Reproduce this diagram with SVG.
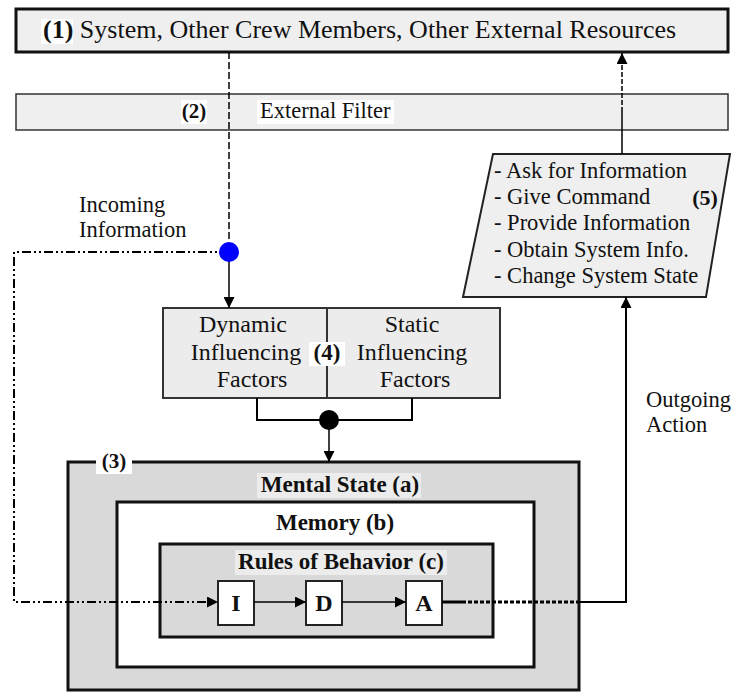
<svg xmlns="http://www.w3.org/2000/svg" width="733" height="692" viewBox="0 0 733 692">
<defs>
<marker id="arr" viewBox="0 0 10 10" refX="10" refY="5" markerWidth="11" markerHeight="11" markerUnits="userSpaceOnUse" orient="auto">
<path d="M0,0 L10,5 L0,10 z" fill="#000"/>
</marker>
</defs>
<style>
text{font-family:"Liberation Serif","Times New Roman",serif;fill:#111}
.b{font-weight:bold}
.c{text-anchor:middle}
.ln{fill:none;stroke:#000}
.bg{fill:#fff;stroke:none}
</style>
<rect width="733" height="692" fill="#fff"/>

<g id="n1">
<rect x="16" y="9" width="712" height="43" fill="#efefef" stroke="#111" stroke-width="3"/>
<rect class="bg" x="41" y="19" width="32" height="25"/>
<text x="43" y="38" font-size="26"><tspan class="b">(1)</tspan> System, Other Crew Members, Other External Resources</text>
</g>

<g id="n2">
<rect x="16" y="94" width="712" height="36" fill="#efefef" stroke="#333" stroke-width="1.5"/>
<rect class="bg" x="181" y="100" width="26" height="24"/>
<rect class="bg" x="257" y="100" width="137" height="24"/>
<text x="194" y="118" font-size="21" class="b c">(2)</text>
<text x="260" y="118" font-size="22.5">External Filter</text>
</g>

<g id="n5">
<polygon points="463,297 493,154 730,154 706,297" fill="#efefef" stroke="#222" stroke-width="2"/>
<text font-size="22.5">
<tspan x="494" y="178">- Ask for Information</tspan>
<tspan x="494" y="204">- Give Command</tspan>
<tspan x="494" y="230">- Provide Information</tspan>
<tspan x="494" y="257">- Obtain System Info.</tspan>
<tspan x="494" y="283">- Change System State</tspan>
</text>
<text x="705" y="205" font-size="22" class="b c">(5)</text>
</g>

<g id="n4">
<rect x="163" y="308" width="337" height="90" fill="#ececec" stroke="#333" stroke-width="2"/>
<line x1="327" y1="308" x2="327" y2="398" stroke="#333" stroke-width="2"/>
<text font-size="24" class="c">
<tspan x="246" y="332">Dynamic</tspan>
<tspan x="249" y="360">Influencing</tspan>
<tspan x="252" y="387">Factors</tspan>
</text>
<rect class="bg" x="309" y="342" width="36" height="24"/>
<text x="327" y="360" font-size="23" class="b c">(4)</text>
<text font-size="24" class="c">
<tspan x="415" y="332">Static</tspan>
<tspan x="415" y="360">Influencing</tspan>
<tspan x="415" y="387">Factors</tspan>
</text>
</g>

<g id="n3">
<rect x="68" y="462" width="511" height="228" fill="#d9d9d9" stroke="#111" stroke-width="3"/>
<rect class="bg" x="96" y="450" width="36" height="24"/>
<text x="114" y="468" font-size="21" class="b c">(3)</text>
<rect x="257" y="473" width="164" height="25" fill="#ececec"/>
<text x="340" y="492" font-size="23" class="b c">Mental State (a)</text>
</g>

<g id="n3b">
<rect x="117" y="502" width="417" height="165" fill="#fff" stroke="#111" stroke-width="3"/>
<text x="335" y="530" font-size="23" class="b c">Memory (b)</text>
</g>

<g id="n3c">
<rect x="160" y="544" width="333" height="93" fill="#d9d9d9" stroke="#111" stroke-width="3"/>
<rect x="235" y="550" width="212" height="25" fill="#ececec"/>
<text x="341" y="569" font-size="23" class="b c">Rules of Behavior (c)</text>
</g>

<g id="nI">
<rect x="218" y="581" width="36" height="44" fill="#fff" stroke="#222" stroke-width="2"/>
<text x="236" y="611" font-size="24" class="b c">I</text>
</g>
<g id="nD">
<rect x="306" y="581" width="36" height="44" fill="#fff" stroke="#222" stroke-width="2"/>
<text x="324" y="611" font-size="24" class="b c">D</text>
</g>
<g id="nA">
<rect x="406" y="581" width="36" height="44" fill="#fff" stroke="#222" stroke-width="2"/>
<text x="424" y="611" font-size="24" class="b c">A</text>
</g>

<g id="connectors">
<line class="ln" x1="229" y1="52" x2="229" y2="242" stroke-width="1.5" stroke-dasharray="7,3"/>
<line class="ln" x1="229" y1="252" x2="229" y2="308" stroke-width="1.5" marker-end="url(#arr)"/>
<path class="ln" d="M229,252 H14 V602 H218" stroke-width="2" stroke-dasharray="9,3,2,3,2,3" marker-end="url(#arr)"/>
<line class="ln" x1="254" y1="602" x2="306" y2="602" stroke="#555" stroke-width="1.5" marker-end="url(#arr)"/>
<line class="ln" x1="342" y1="602" x2="406" y2="602" stroke-width="1.5" marker-end="url(#arr)"/>
<line class="ln" x1="442" y1="602" x2="462" y2="602" stroke-width="3"/>
<line class="ln" x1="462" y1="602" x2="578" y2="602" stroke-width="3" stroke-dasharray="4,2"/>
<path class="ln" d="M578,602 H626 V297" stroke-width="2" marker-end="url(#arr)"/>
<line class="ln" x1="622" y1="154" x2="622" y2="112" stroke-width="1.5"/>
<line class="ln" x1="622" y1="112" x2="622" y2="53" stroke-width="1.5" stroke-dasharray="5,2" marker-end="url(#arr)"/>
<path class="ln" d="M257,398 V420 H412 V398" stroke="#222" stroke-width="2"/>
<line class="ln" x1="329" y1="420" x2="329" y2="462" stroke-width="1.5" marker-end="url(#arr)"/>
<circle cx="229" cy="252" r="10" fill="#0000ff"/>
<circle cx="329" cy="420" r="10" fill="#000"/>
</g>

<g id="labels">
<text font-size="22.5"><tspan x="79" y="212">Incoming</tspan><tspan x="79" y="237">Information</tspan></text>
<text font-size="22.5"><tspan x="646" y="407">Outgoing</tspan><tspan x="646" y="432">Action</tspan></text>
</g>
</svg>
